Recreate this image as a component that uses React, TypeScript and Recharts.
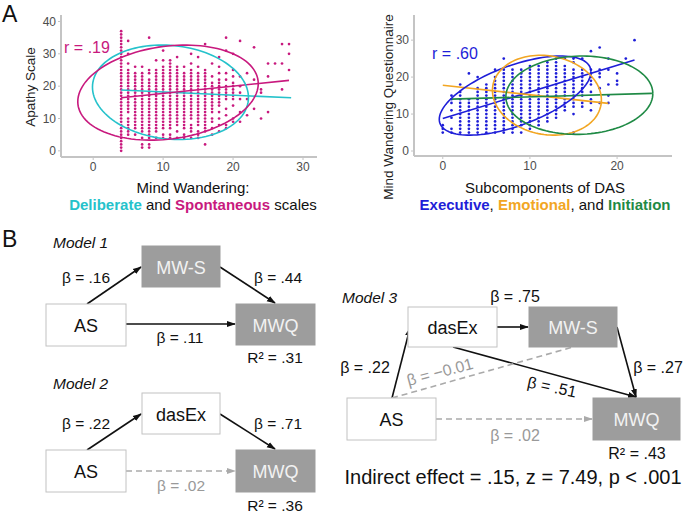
import React from 'react';
import { ScatterChart, Scatter, XAxis, YAxis } from 'recharts';

const FONT = '"Liberation Sans", Arial, Helvetica, sans-serif';

// ---------- Panel A left: Spontaneous MW (x) vs Apathy Scale (y) ----------
const mwsX = [4, 5, 6, 7, 8, 9, 10, 11, 12, 13, 14, 15, 16, 17, 18, 19, 20, 21, 22, 23, 24, 25, 26, 27, 28];
const mwsY: number[][] = [
  [0, 1, 2, 3, 4, 5, 6, 7, 8, 9, 10, 11, 12, 13, 14, 15, 16, 17, 18, 19, 20, 21, 22, 23, 24, 25, 26, 27, 28, 29, 30, 31, 32, 33, 34, 35, 36, 37],
  [5, 6, 7, 8, 9, 10, 12, 13, 14, 15, 16, 17, 18, 19, 20, 21, 22, 23, 24, 25, 27, 30, 34],
  [5, 7, 8, 9, 10, 11, 12, 13, 14, 15, 16, 17, 18, 19, 20, 21, 22, 23, 24, 26],
  [1, 2, 4, 6, 7, 8, 9, 10, 11, 12, 13, 14, 15, 16, 17, 18, 19, 20, 21, 22, 23, 24, 26],
  [1, 2, 4, 5, 6, 7, 8, 9, 10, 11, 12, 13, 14, 15, 16, 17, 18, 19, 20, 21, 22, 24, 25, 35],
  [4, 6, 7, 8, 9, 10, 11, 12, 13, 14, 15, 16, 17, 18, 19, 20, 21, 22, 23, 24, 25, 28],
  [4, 5, 7, 8, 9, 10, 11, 12, 13, 14, 15, 16, 17, 18, 19, 20, 21, 22, 23, 24, 25, 26, 28, 31],
  [4, 5, 7, 8, 9, 10, 11, 12, 13, 14, 15, 16, 17, 18, 19, 20, 21, 22, 23, 24, 25, 26, 27, 28],
  [4, 6, 8, 9, 10, 11, 12, 13, 14, 15, 16, 17, 18, 19, 20, 21, 22, 23, 24, 25, 26, 29],
  [4, 5, 7, 8, 9, 10, 11, 12, 13, 14, 15, 16, 17, 18, 19, 20, 21, 22, 23, 24, 26],
  [4, 6, 7, 8, 10, 11, 12, 13, 14, 15, 16, 17, 18, 19, 20, 21, 22, 23, 24, 25, 27, 30],
  [4, 5, 6, 8, 9, 10, 11, 12, 13, 14, 15, 16, 17, 18, 19, 20, 21, 22, 23, 24, 26, 29],
  [2, 6, 7, 8, 9, 10, 11, 12, 13, 14, 15, 16, 17, 18, 19, 20, 21, 22, 23, 24, 25, 33],
  [5, 7, 9, 10, 12, 13, 14, 15, 16, 17, 18, 19, 20, 21, 23, 27],
  [6, 8, 10, 12, 14, 15, 16, 17, 18, 19, 20, 21, 22, 24, 26, 29],
  [7, 8, 11, 13, 16, 17, 18, 19, 20, 22, 24, 31, 35],
  [9, 10, 14, 16, 17, 18, 19, 20, 21, 23, 25, 30],
  [9, 12, 16, 18, 20, 23, 34],
  [11, 16, 24],
  [13, 22, 32],
  [10, 18, 19],
  [12, 23, 27],
  [27],
  [19, 27, 33],
  [25, 30, 33],
];
// ellipse: centre x, centre y, half-width x, half-height y, correlation
const spontEllipse = [10.7, 18.0, 12.9, 14.7, 0.19];
const delibEllipse = [11.05, 18.1, 11.15, 14.6, -0.11];
const spontLine = [[4, 16.4], [28, 21.8]];
const delibLine = [[4, 18.8], [28.3, 16.4]];
const leftXTicks = [0, 10, 20, 30];
const leftYTicks = [0, 10, 20, 30, 40];

// ---------- Panel A right: DAS subcomponents (x) vs MWQ (y) ----------
const dasX = [0, 1, 2, 3, 4, 5, 6, 7, 8, 9, 10, 11, 12, 13, 14, 15, 16, 17, 18, 19, 20, 21, 22];
const mwqY: number[][] = [
  [5, 6, 7],
  [5, 6, 9, 11, 13, 14, 15],
  [5, 6, 7, 8, 9, 10, 11, 12, 13, 14, 15, 16, 18],
  [5, 6, 7, 8, 9, 10, 11, 12, 13, 14, 21],
  [5, 6, 7, 8, 9, 10, 11, 12, 13, 14, 15, 16, 17, 20],
  [5, 6, 7, 8, 9, 10, 11, 12, 13, 14, 15, 16, 17, 18],
  [5, 6, 7, 8, 9, 10, 11, 12, 13, 14, 15, 16, 17, 18, 19, 20, 22],
  [5, 6, 7, 8, 9, 10, 11, 12, 13, 14, 15, 16, 17, 18, 19, 20, 21, 22, 25],
  [5, 6, 7, 8, 9, 10, 11, 12, 13, 14, 15, 16, 17, 18, 19, 20, 21, 22],
  [5, 7, 8, 9, 10, 11, 12, 13, 14, 15, 16, 17, 18, 19, 20, 21, 22],
  [6, 7, 8, 9, 10, 11, 12, 13, 14, 15, 16, 17, 18, 19, 20, 21, 22, 23],
  [7, 8, 9, 10, 11, 12, 13, 14, 15, 16, 17, 18, 19, 20, 21, 22, 23],
  [8, 9, 10, 11, 12, 13, 14, 15, 16, 17, 18, 19, 20, 21, 22, 23, 24],
  [9, 10, 11, 12, 13, 14, 15, 16, 17, 18, 19, 20, 21, 22, 23, 24, 25],
  [11, 12, 13, 14, 15, 16, 17, 18, 19, 20, 21, 22, 23, 25],
  [5, 10, 12, 13, 14, 15, 16, 17, 18, 19, 20, 21, 22, 24, 25],
  [12, 13, 15, 16, 17, 18, 19, 20, 21, 22, 25],
  [11, 13, 14, 16, 18, 19, 20, 21, 22, 27],
  [13, 17, 20, 21, 22, 28],
  [13, 15, 18, 22, 25],
  [18, 19, 21],
  [25],
  [30],
];
const execEllipse = [8.3, 15.0, 8.7, 10.7, 0.6];
const emotEllipse = [11.95, 15.1, 6.25, 10.8, -0.12];
const initEllipse = [15.67, 15.1, 8.43, 10.6, 0.04];
const execLine = [[0, 8.8], [22, 24.6]];
const emotLine = [[0, 17.8], [19, 12.9]];
const initLine = [[1, 14.05], [24, 15.6]];
const rightXTicks = [0, 10, 20];
const rightYTicks = [0, 10, 20, 30];

const MAGENTA = '#C8197E';
const CYAN = '#25C2CB';
const BLUE = '#1E1ED8';
const ORANGE = '#F2A623';
const GREEN = '#1F8A45';

function columnsToPoints(xs: number[], ys: number[][]) {
  const pts: { x: number; y: number }[] = [];
  xs.forEach((x, i) => ys[i].forEach((y) => pts.push({ x, y })));
  return pts;
}
function ellipsePoints(e: number[]) {
  const [cx, cy, ax, ay, r] = e;
  const pts: { x: number; y: number }[] = [];
  const n = 120;
  for (let i = 0; i <= n; i++) {
    const t = (i / n) * Math.PI * 2;
    pts.push({ x: cx + ax * Math.cos(t), y: cy + ay * (r * Math.cos(t) + Math.sqrt(1 - r * r) * Math.sin(t)) });
  }
  return pts;
}
function linePoints(l: number[][]) {
  return l.map(([x, y]) => ({ x, y }));
}

const Dot = (color: string) => (props: any) => (
  <circle cx={props.cx} cy={props.cy} r={1.35} fill={color} />
);
const NoShape = () => <g />;

const axisLine = { stroke: '#c4c4c4', strokeWidth: 2 };
const tickLine = { stroke: '#c4c4c4' };
const tickStyle = { fill: '#4d4d4d', fontSize: 12, fontFamily: FONT };

function Curve({ data, color }: { data: { x: number; y: number }[]; color: string }) {
  return (
    <Scatter
      data={data}
      line={{ stroke: color, strokeWidth: 1.6 }}
      lineType="joint"
      shape={NoShape}
      isAnimationActive={false}
      legendType="none"
    />
  );
}

function LeftChart() {
  const pts = columnsToPoints(mwsX, mwsY);
  return (
    <ScatterChart width={340} height={220} margin={{ top: 15, right: 23, bottom: 43, left: 31 }}>
      <XAxis type="number" dataKey="x" domain={[-4.6, 32]} ticks={leftXTicks} allowDataOverflow
        axisLine={axisLine} tickLine={tickLine} tickSize={3} tick={tickStyle} height={20} />
      <YAxis type="number" dataKey="y" domain={[-1.9, 42]} ticks={leftYTicks} allowDataOverflow
        axisLine={axisLine} tickLine={tickLine} tickSize={3} tick={tickStyle} width={30} />
      <Scatter data={pts} shape={Dot(MAGENTA)} isAnimationActive={false} />
      {Curve({ data: linePoints(delibLine), color: CYAN })}
      {Curve({ data: linePoints(spontLine), color: MAGENTA })}
      {Curve({ data: ellipsePoints(delibEllipse), color: CYAN })}
      {Curve({ data: ellipsePoints(spontEllipse), color: MAGENTA })}
    </ScatterChart>
  );
}

function RightChart() {
  const pts = columnsToPoints(dasX, mwqY);
  return (
    <ScatterChart width={345} height={220} margin={{ top: 15, right: 13, bottom: 44, left: 44 }}>
      <XAxis type="number" dataKey="x" domain={[-3.3, 26.3]} ticks={rightXTicks} allowDataOverflow
        axisLine={axisLine} tickLine={tickLine} tickSize={3} tick={tickStyle} height={20} />
      <YAxis type="number" dataKey="y" domain={[-1.35, 36.8]} ticks={rightYTicks} allowDataOverflow
        axisLine={axisLine} tickLine={tickLine} tickSize={3} tick={tickStyle} width={30} />
      <Scatter data={pts} shape={Dot(BLUE)} isAnimationActive={false} />
      {Curve({ data: linePoints(execLine), color: BLUE })}
      {Curve({ data: linePoints(emotLine), color: ORANGE })}
      {Curve({ data: linePoints(initLine), color: GREEN })}
      {Curve({ data: ellipsePoints(execEllipse), color: BLUE })}
      {Curve({ data: ellipsePoints(emotEllipse), color: ORANGE })}
      {Curve({ data: ellipsePoints(initEllipse), color: GREEN })}
    </ScatterChart>
  );
}

// ---------- Panel B diagram ----------
const GRAYBOX = '#9d9d9d';
function Box({ x, y, w, h, label, gray }: { x: number; y: number; w: number; h: number; label: string; gray?: boolean }) {
  return (
    <g>
      <rect x={x} y={y} width={w} height={h} fill={gray ? GRAYBOX : '#fff'} stroke={gray ? GRAYBOX : '#c2c2c2'} strokeWidth={1} />
      <text x={x + w / 2} y={y + h / 2 + 1} textAnchor="middle" dominantBaseline="central" fontSize={18}
        fill={gray ? '#f2f2f2' : '#111'}>{label}</text>
    </g>
  );
}
function Arrow({ x1, y1, x2, y2, dashed, head = true }: { x1: number; y1: number; x2: number; y2: number; dashed?: boolean; head?: boolean }) {
  return (
    <line x1={x1} y1={y1} x2={x2} y2={y2} stroke={dashed ? '#aaaaaa' : '#111'} strokeWidth={1.6}
      strokeDasharray={dashed ? '6 4' : undefined} markerEnd={head ? (dashed ? 'url(#ahg)' : 'url(#ah)') : undefined} />
  );
}
function T({ x, y, s, size = 15.5, color = '#111', italic, rot, anchor = 'middle' }: any) {
  return (
    <text x={x} y={y} textAnchor={anchor} dominantBaseline="central" fontSize={size} fill={color}
      fontStyle={italic ? 'italic' : undefined} transform={rot ? `rotate(${rot} ${x} ${y})` : undefined}>{s}</text>
  );
}

function Overlay() {
  return (
    <svg width={685} height={513} style={{ position: 'absolute', left: 0, top: 0, pointerEvents: 'none' }} fontFamily={FONT}>
      <defs>
        <marker id="ah" markerWidth="9" markerHeight="8" refX="8" refY="4" orient="auto" markerUnits="userSpaceOnUse">
          <path d="M0,1 L9,4 L0,7 z" fill="#111" />
        </marker>
        <marker id="ahg" markerWidth="9" markerHeight="8" refX="8" refY="4" orient="auto" markerUnits="userSpaceOnUse">
          <path d="M0,1 L9,4 L0,7 z" fill="#aaaaaa" />
        </marker>
      </defs>
      {/* Panel A texts */}
      <text x={2} y={22} fontSize={23} fill="#111">A</text>
      <T x={30} y={87} s="Apathy Scale" size={13.5} color="#222" rot={-90} />
      <T x={87} y={47} s="r = .19" size={16} color={MAGENTA} />
      <T x={193} y={187} s="Mind Wandering:" size={15} color="#111" />
      <text x={193} y={204} textAnchor="middle" dominantBaseline="central" fontSize={15} fill="#111">
        <tspan fill={CYAN} fontWeight="bold">Deliberate</tspan> and <tspan fill={MAGENTA} fontWeight="bold">Spontaneous</tspan> scales
      </text>
      <T x={388} y={107} s="Mind Wandering Questionnaire" size={13.5} color="#222" rot={-90} />
      <T x={455} y={53} s="r = .60" size={16} color={BLUE} />
      <T x={545} y={187} s="Subcomponents of DAS" size={15} color="#111" />
      <text x={545} y={204} textAnchor="middle" dominantBaseline="central" fontSize={15} fill="#111">
        <tspan fill={BLUE} fontWeight="bold">Executive</tspan>, <tspan fill={ORANGE} fontWeight="bold">Emotional</tspan>, and <tspan fill={GREEN} fontWeight="bold">Initiation</tspan>
      </text>

      {/* Panel B */}
      <text x={2} y={247} fontSize={23} fill="#111">B</text>
      {/* Model 1 */}
      <T x={53} y={242} s="Model 1" size={15.5} italic anchor="start" />
      <Arrow x1={87} y1={304} x2={141} y2={267} />
      <Arrow x1={220} y1={267} x2={275} y2={303} />
      <Arrow x1={126} y1={324} x2={235} y2={324} />
      <Box x={142} y={246} w={78} h={41} label="MW-S" gray />
      <Box x={46} y={304} w={80} h={42} label="AS" />
      <Box x={236} y={304} w={79} h={41} label="MWQ" gray />
      <T x={86} y={277} s="β = .16" />
      <T x={278} y={277} s="β = .44" />
      <T x={180} y={337} s="β = .11" />
      <T x={275} y={357} s="R² = .31" />
      {/* Model 2 */}
      <T x={53} y={383} s="Model 2" size={15.5} italic anchor="start" />
      <Arrow x1={87} y1={450} x2={141} y2={414} />
      <Arrow x1={220} y1={414} x2={275} y2={449} />
      <Arrow x1={126} y1={471} x2={235} y2={471} dashed />
      <Box x={142} y={393} w={78} h={41} label="dasEx" />
      <Box x={46} y={450} w={80} h={42} label="AS" />
      <Box x={236} y={450} w={79} h={42} label="MWQ" gray />
      <T x={86} y={423} s="β = .22" />
      <T x={278} y={423} s="β = .71" />
      <T x={181} y={485} s="β = .02" color="#999" />
      <T x={275} y={505} s="R² = .36" />
      {/* Model 3 */}
      <T x={342} y={297} s="Model 3" size={15.5} italic anchor="start" />
      <Arrow x1={392} y1={398} x2={410} y2={328} />
      <Arrow x1={497} y1={327} x2={528} y2={327} />
      <Arrow x1={617} y1={327} x2={636} y2={397} />
      <Arrow x1={453} y1={347} x2={636} y2={397} />
      <Arrow x1={392} y1={398} x2={573} y2={347} dashed head={false} />
      <Arrow x1={436} y1={419} x2={592} y2={419} dashed />
      <Box x={408} y={307} w={89} h={40} label="dasEx" />
      <Box x={529} y={307} w={88} h={40} label="MW-S" gray />
      <Box x={347} y={398} w={89} h={42} label="AS" />
      <Box x={593} y={398} w={87} h={42} label="MWQ" gray />
      <T x={515} y={296} s="β = .75" size={16} />
      <T x={365} y={367} s="β = .22" size={16} />
      <T x={658} y={367} s="β = .27" size={16} />
      <T x={440} y={372} s="β = −0.01" size={16} color="#999" rot={-15} />
      <T x={552} y={387} s="β = .51" size={16} rot={12} />
      <T x={515} y={435} s="β = .02" size={16} color="#999" />
      <T x={637} y={453} s="R² = .43" size={16} />
      <T x={513} y={477} s="Indirect effect = .15, z = 7.49, p < .001" size={20} />
    </svg>
  );
}

export default function App() {
  return (
    <div style={{ position: 'absolute', left: 0, top: 0, width: 685, height: 513, background: '#fff', fontFamily: FONT }}>
      <div style={{ position: 'absolute', left: 0, top: 0 }}>
        <LeftChart />
      </div>
      <div style={{ position: 'absolute', left: 340, top: 0 }}>
        <RightChart />
      </div>
      <Overlay />
    </div>
  );
}
